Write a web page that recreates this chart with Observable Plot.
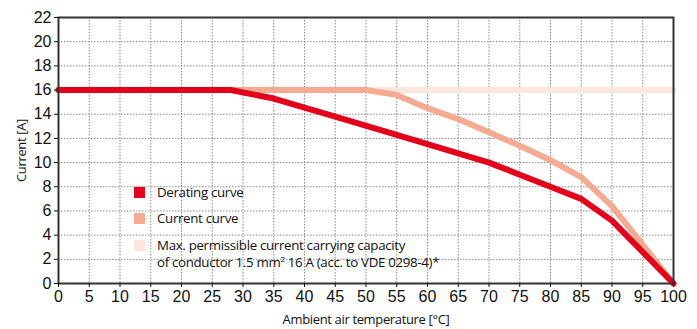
<!DOCTYPE html>
<html>
<head>
<meta charset="utf-8">
<script src="https://cdn.jsdelivr.net/npm/d3@7"></script>
<script src="https://cdn.jsdelivr.net/npm/@observablehq/plot@0.6"></script>
<style>
  body { margin: 0; background: #fff; }
  #wrap { position: relative; width: 697px; height: 329px; }
  #wrap svg { font-family: "Liberation Sans Narrow", "Liberation Sans", Arial, sans-serif; }
  g[aria-label="x-axis label"] text, g[aria-label="y-axis label"] text {
    font-family: "Open Sans", sans-serif; font-size: 13px; letter-spacing: -0.35px;
  }
  .legend { position: absolute; left: 134px; top: 0; font-family: "Open Sans", sans-serif; font-size: 13.3px; letter-spacing: -0.32px; color: #111; }
  .row { position: absolute; left: 0; padding-left: 23px; line-height: 17px; white-space: nowrap; }
  .sw { position: absolute; left: 0; top: 3px; width: 11px; height: 11px; }
  sup { font-size: 8px; line-height: 0; }
</style>
</head>
<body>
<div id="wrap"></div>
<script>
// Series data
const derTemp = [0, 28, 35, 45, 55, 70, 75, 80, 85, 90, 100];
const derCur  = [16, 16, 15.3, 13.8, 12.3, 10, 9, 8, 7, 5.2, 0];
const curTemp = [0, 50, 55, 60, 65, 70, 75, 80, 85, 90, 100];
const curCur  = [16, 16, 15.6, 14.5, 13.6, 12.5, 11.4, 10.2, 8.8, 6.4, 0];
const maxTemp = [0, 100];
const maxCur  = [16, 16];
// Ticks
const xTicks = [0,5,10,15,20,25,30,35,40,45,50,55,60,65,70,75,80,85,90,95,100];
const yTicks = [0,2,4,6,8,10,12,14,16,18,20,22];
// Labels and colours
const seriesNames = ["Derating curve", "Current curve", "Max. permissible current carrying capacity"];
const colors = ["#e3001b", "#f4ab92", "#fce7dc"];

const toRows = (xs, ys) => xs.map((t, i) => ({t, c: ys[i]}));

const chart = Plot.plot({
  width: 697,
  height: 329,
  marginLeft: 58,
  marginRight: 24,
  marginTop: 17,
  marginBottom: 46,
  x: {domain: [0, 100]},
  y: {domain: [0, 22]},
  marks: [
    Plot.gridX(xTicks, {stroke: "#8a8a8a", strokeOpacity: 1, strokeDasharray: "1.5,1.5"}),
    Plot.gridY(yTicks, {stroke: "#8a8a8a", strokeOpacity: 1, strokeDasharray: "1.5,1.5"}),
    Plot.line(toRows(maxTemp, maxCur), {x: "t", y: "c", stroke: colors[2], strokeWidth: 6}),
    Plot.line(toRows(curTemp, curCur), {x: "t", y: "c", stroke: colors[1], strokeWidth: 6}),
    Plot.line(toRows(derTemp, derCur), {x: "t", y: "c", stroke: colors[0], strokeWidth: 6}),
    Plot.frame({stroke: "#333", strokeWidth: 2}),
    Plot.axisX(xTicks, {tickSize: 4, tickPadding: 3, fontSize: 16, color: "#111",
      label: "Ambient air temperature [°C]", labelAnchor: "center", labelArrow: "none", labelOffset: 40}),
    Plot.axisY(yTicks, {tickSize: 4, tickPadding: 3, fontSize: 16, color: "#111",
      label: "Current [A]", labelAnchor: "center", labelArrow: "none", labelOffset: 42})
  ]
});

const wrap = document.getElementById("wrap");
wrap.appendChild(chart);

const legend = document.createElement("div");
legend.className = "legend";
legend.innerHTML = `
  <div class="row" style="top:184px"><span class="sw" style="background:${colors[0]}"></span>${seriesNames[0]}</div>
  <div class="row" style="top:210px"><span class="sw" style="background:${colors[1]}"></span>${seriesNames[1]}</div>
  <div class="row" style="top:237px"><span class="sw" style="background:${colors[2]}"></span>${seriesNames[2]}<br>of conductor 1.5 mm<sup>2</sup> 16 A (acc. to VDE 0298-4)*</div>`;
wrap.appendChild(legend);
</script>
</body>
</html>
